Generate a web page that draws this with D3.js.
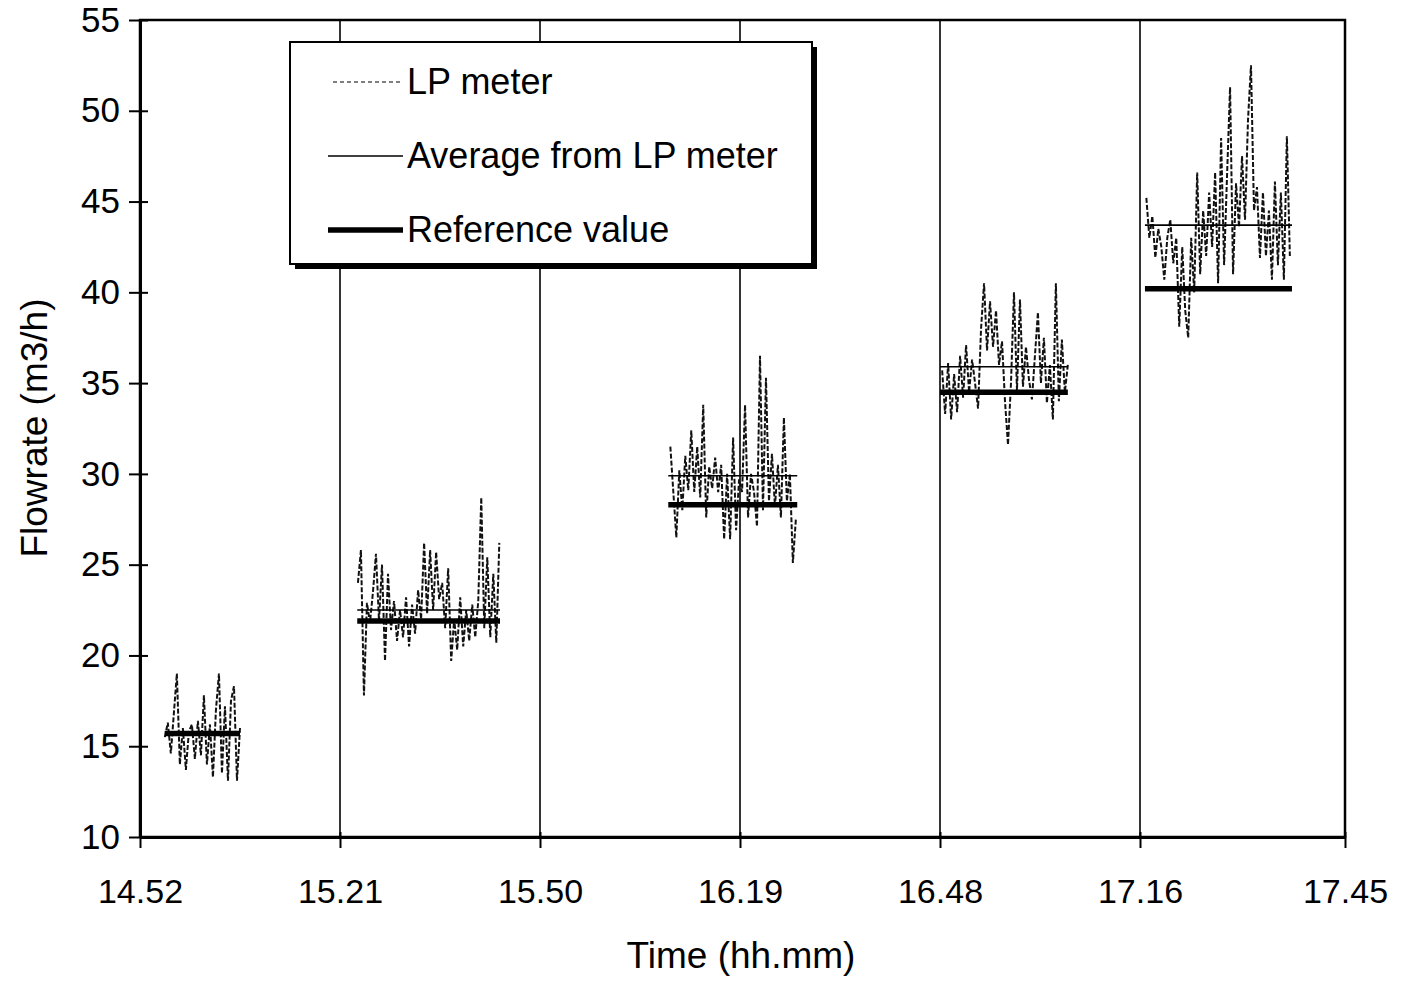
<!DOCTYPE html>
<html>
<head>
<meta charset="utf-8">
<script src="https://cdn.jsdelivr.net/npm/d3@7"></script>
<style>
    body { margin: 0; background: #fff; }
    svg { font-family: "Liberation Sans", Arial, Helvetica, sans-serif; }
</style>
</head>
<body>
<div id="chart-area"></div>
<script>
// x ticks are clock times (hh.mm); series x is minutes after 14.52
const tickLabels = ["14.52", "15.21", "15.50", "16.19", "16.48", "17.16", "17.45"];
const yTicks = [10, 15, 20, 25, 30, 35, 40, 45, 50, 55];

// reference flowrate and average of the LP meter for each test step
const refValues = [15.7, 21.9, 28.3, 34.5, 40.2];
const avgValues = [15.8, 22.5, 29.9, 35.9, 43.7];
// start / end of each step (minutes after 14.52)
const stepSpans = [[3.6, 14.5], [31.5, 52.2], [76.6, 95.3], [116.0, 133.9], [144.7, 165.5]];

// LP meter readings, one array per step
const lpSpans = [[3.6, 14.5], [31.6, 52.1], [76.9, 95.1], [116.3, 133.9], [144.9, 165.2]];
const lp1 = [15.5, 16.3, 14.6, 16.8, 19.0, 14.0, 16.0, 13.7, 15.8, 16.2, 14.3, 16.4, 14.5,
    17.8, 14.0, 16.2, 13.3, 17.0, 19.0, 13.5, 17.2, 13.1, 17.5, 18.3, 13.1, 16.0];
const lp2 = [24.0, 25.8, 17.8, 22.9, 21.8, 23.5, 25.6, 21.9, 25.0, 19.7, 24.5, 21.4, 23.0,
    20.8, 22.5, 21.0, 23.2, 20.5, 22.8, 21.2, 23.6, 22.0, 26.2, 22.3, 25.8, 22.5, 25.7, 23.1,
    24.0, 21.5, 24.8, 19.7, 22.0, 20.3, 23.2, 20.5, 22.5, 20.8, 22.8, 21.0, 23.0, 28.7, 21.5,
    25.4, 21.0, 24.5, 20.7, 26.2];
const lp3 = [31.5, 29.0, 26.5, 30.2, 28.0, 31.0, 29.1, 32.4, 29.0, 31.5, 28.7, 33.8, 27.6,
    30.4, 29.2, 30.9, 29.0, 30.5, 26.4, 30.0, 26.4, 32.0, 26.9, 29.7, 29.0, 33.8, 27.6, 30.0,
    29.0, 27.1, 36.5, 28.0, 35.3, 28.5, 31.1, 28.2, 30.5, 27.6, 33.1, 28.5, 30.0, 25.1, 27.5];
const lp4 = [35.7, 33.3, 36.1, 33.0, 35.5, 33.4, 36.5, 34.2, 37.1, 34.5, 36.3, 35.0, 33.6,
    38.0, 40.5, 36.8, 39.5, 37.0, 39.0, 36.0, 37.3, 34.0, 31.6, 35.0, 40.0, 34.6, 39.6, 34.8,
    37.0, 35.2, 34.1, 36.5, 38.9, 35.0, 37.5, 33.9, 36.0, 33.0, 40.5, 34.0, 37.4, 34.5, 36.0];
const lp5 = [45.2, 43.0, 44.2, 41.9, 43.5, 42.5, 40.7, 43.0, 44.0, 41.6, 43.0, 38.1, 42.5,
    39.0, 37.5, 43.0, 40.0, 46.6, 41.0, 44.5, 42.0, 45.5, 42.5, 46.6, 40.5, 48.5, 41.5, 46.5,
    51.3, 41.0, 46.0, 43.6, 47.5, 44.0, 49.5, 52.5, 44.5, 45.8, 41.9, 45.5, 42.0, 44.5, 40.7,
    46.1, 41.5, 45.5, 40.7, 48.6, 42.0];
const lpSeries = [lp1, lp2, lp3, lp4, lp5];

var margin = {left: 140, right: 58, top: 20, bottom: 146};
var width = 1403 - margin.left - margin.right,
    height = 983 - margin.top - margin.bottom;

function toMinutes(label) {
    var p = label.split(".").map(Number);
    return p[0] * 60 + p[1] - (14 * 60 + 52);
}
var tickMinutes = tickLabels.map(toMinutes);

var svg = d3.select("#chart-area")
    .append("svg")
        .attr("width", width + margin.left + margin.right)
        .attr("height", height + margin.top + margin.bottom);
var g = svg.append("g")
    .attr("transform", "translate(" + margin.left + ", " + margin.top + ")");

// the spreadsheet spaces its time ticks evenly, so map each tick interval to 200px
var x = d3.scaleLinear()
    .domain(tickMinutes)
    .range([0, 200, 400, 600, 800, 1000, width]);

var y = d3.scaleLinear()
    .domain([10, 55])
    .range([height, 0]);

// vertical gridlines
g.selectAll("line.grid")
    .data(tickMinutes.slice(1, -1))
    .enter().append("line")
        .attr("class", "grid")
        .attr("x1", d => x(d)).attr("x2", d => x(d))
        .attr("y1", 0).attr("y2", height)
        .attr("stroke", "#000")
        .attr("stroke-width", 1.6);

// plot frame
g.append("rect")
    .attr("width", width).attr("height", height)
    .attr("fill", "none")
    .attr("stroke", "#000")
    .attr("stroke-width", 2.5);

// axes
var yAxisCall = d3.axisLeft(y)
    .tickValues(yTicks)
    .tickSizeInner(11)
    .tickSizeOuter(0)
    .tickPadding(9);
var yAxis = g.append("g").attr("class", "y axis").call(yAxisCall);
yAxis.select(".domain").attr("stroke-width", 3);
yAxis.selectAll(".tick line").attr("x1", 8).attr("stroke-width", 2);
yAxis.selectAll("text").attr("font-size", "35px").attr("fill", "#000");

var xAxisCall = d3.axisBottom(x)
    .tickValues(tickMinutes)
    .tickFormat((d, i) => tickLabels[i])
    .tickSizeInner(11)
    .tickSizeOuter(0)
    .tickPadding(31);
var xAxis = g.append("g")
    .attr("class", "x axis")
    .attr("transform", "translate(0, " + height + ")")
    .call(xAxisCall);
xAxis.select(".domain").attr("stroke-width", 3);
xAxis.selectAll(".tick line").attr("y1", -5).attr("stroke-width", 2);
xAxis.selectAll("text").attr("font-size", "34px").attr("fill", "#000");

// labels
g.append("text")
    .attr("x", 601)
    .attr("y", height + 131)
    .attr("font-size", "37px")
    .attr("text-anchor", "middle")
    .text("Time (hh.mm)");

g.append("text")
    .attr("transform", "rotate(-90)")
    .attr("x", -408)
    .attr("y", -93)
    .attr("font-size", "37px")
    .attr("text-anchor", "middle")
    .text("Flowrate (m3/h)");

// LP meter traces
var line = d3.line()
    .x(d => x(d[0]))
    .y(d => y(d[1]));

lpSeries.forEach(function(vals, s) {
    var span = lpSpans[s];
    var pts = vals.map((v, i) => [span[0] + i * (span[1] - span[0]) / (vals.length - 1), v]);
    g.append("path")
        .datum(pts)
        .attr("fill", "none")
        .attr("stroke", "#111")
        .attr("stroke-width", 2)
        .attr("stroke-dasharray", "5,2")
        .attr("d", line);
});

// averages
g.selectAll("line.avg")
    .data(avgValues)
    .enter().append("line")
        .attr("class", "avg")
        .attr("x1", (d, i) => x(stepSpans[i][0]))
        .attr("x2", (d, i) => x(stepSpans[i][1]))
        .attr("y1", d => y(d)).attr("y2", d => y(d))
        .attr("stroke", "#000")
        .attr("stroke-width", 1.6);

// reference values
g.selectAll("line.ref")
    .data(refValues)
    .enter().append("line")
        .attr("class", "ref")
        .attr("x1", (d, i) => x(stepSpans[i][0]))
        .attr("x2", (d, i) => x(stepSpans[i][1]))
        .attr("y1", d => y(d)).attr("y2", d => y(d))
        .attr("stroke", "#000")
        .attr("stroke-width", 5.5);

// legend
var legend = svg.append("g").attr("transform", "translate(290, 42)");
legend.append("rect")
    .attr("x", 5).attr("y", 5)
    .attr("width", 522).attr("height", 222)
    .attr("fill", "#000");
legend.append("rect")
    .attr("width", 522).attr("height", 222)
    .attr("fill", "#fff")
    .attr("stroke", "#000")
    .attr("stroke-width", 2);

var legendItems = [
    {label: "LP meter", width: 1.4, dash: "4,3", x1: 43},
    {label: "Average from LP meter", width: 1.6, dash: null, x1: 38},
    {label: "Reference value", width: 5.5, dash: null, x1: 38}
];
legendItems.forEach(function(item, i) {
    var ly = 40 + i * 74;
    legend.append("line")
        .attr("x1", item.x1).attr("x2", 113)
        .attr("y1", ly).attr("y2", ly)
        .attr("stroke", item.dash ? "#555" : "#000")
        .attr("stroke-width", item.width)
        .attr("stroke-dasharray", item.dash);
    legend.append("text")
        .attr("x", 117)
        .attr("y", ly + 12)
        .attr("font-size", "36px")
        .text(item.label);
});
</script>
</body>
</html>
